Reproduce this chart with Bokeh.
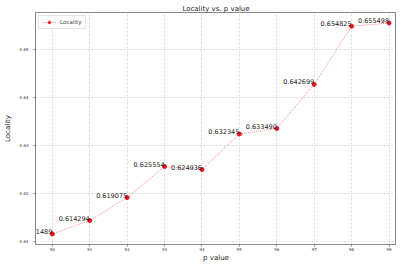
from bokeh.plotting import figure
from bokeh.models import ColumnDataSource, FixedTicker, Range1d, Legend, LegendItem, Label
from bokeh.embed import file_html
from bokeh.resources import INLINE

p_values = [90, 91, 92, 93, 94, 95, 96, 97, 98, 99]
locality = [0.611489, 0.614294, 0.619075, 0.625554, 0.624936,
            0.632345, 0.633490, 0.642699, 0.654825, 0.655498]
x_ticks = [90, 91, 92, 93, 94, 95, 96, 97, 98, 99]
y_ticks = [0.61, 0.62, 0.63, 0.64, 0.65]

FONT = "DejaVu Sans"
RED = "#e8141c"

src = ColumnDataSource(dict(x=p_values, y=locality))

p = figure(width=396, height=264, output_backend="svg", toolbar_location=None,
           x_range=Range1d(89.55, 99.2), y_range=Range1d(0.60929, 0.6577),
           min_border_left=29, min_border_right=0, min_border_top=12, min_border_bottom=0,
           border_fill_color="white")

p.title.text = "Locality vs. p value"
p.title.align = "center"
p.title.text_font = FONT
p.title.text_font_size = "7px"
p.title.text_font_style = "normal"
p.title.text_color = "#222222"
p.title.standoff = 0

ln = p.line("x", "y", source=src, line_color=RED, line_dash="1 1", line_width=0.8, line_alpha=0.6)
sc = p.scatter("x", "y", source=src, size=4, fill_color=RED, line_color=RED)
for xv, yv in zip(p_values, locality):
    p.add_layout(Label(x=xv, y=yv, text="%.6f" % yv, text_align="right", text_baseline="bottom",
                       text_font=FONT, text_font_size="6.5px", text_color="#222222"))

legend = Legend(items=[LegendItem(label="Locality", renderers=[ln, sc])],
                location="top_left", label_text_font=FONT, label_text_font_size="5.6px",
                label_height=6, glyph_height=6, glyph_width=14, padding=3, spacing=0,
                margin=3, border_line_color="#cccccc", border_line_width=1,
                label_standoff=4, background_fill_alpha=0.9)
p.add_layout(legend)

for ax in (p.xaxis, p.yaxis):
    ax.major_label_text_font = FONT
    ax.major_label_text_font_size = "4px"
    ax.major_label_text_color = "#333333"
    ax.axis_label_text_font = FONT
    ax.axis_label_text_font_size = "7px"
    ax.axis_label_text_font_style = "normal"
    ax.axis_label_text_color = "#222222"
    ax.axis_line_color = "#888888"
    ax.major_tick_line_color = "#888888"
    ax.major_tick_out = 2
    ax.major_tick_in = 0
    ax.minor_tick_out = 0
    ax.minor_tick_in = 0

p.xaxis.major_label_standoff = 1
p.xaxis.axis_label_standoff = 0
p.yaxis.major_label_standoff = 5
p.yaxis.axis_label_standoff = 5

p.xaxis.axis_label = "p value"
p.yaxis.axis_label = "Locality"
p.xaxis.ticker = FixedTicker(ticks=x_ticks)
p.yaxis.ticker = FixedTicker(ticks=y_ticks)

p.grid.grid_line_color = "#cccccc"
p.grid.grid_line_dash = "2 2"
p.grid.grid_line_width = 0.7
p.outline_line_color = "#888888"
p.outline_line_width = 1

open("out.html", "w").write(file_html(p, INLINE))
